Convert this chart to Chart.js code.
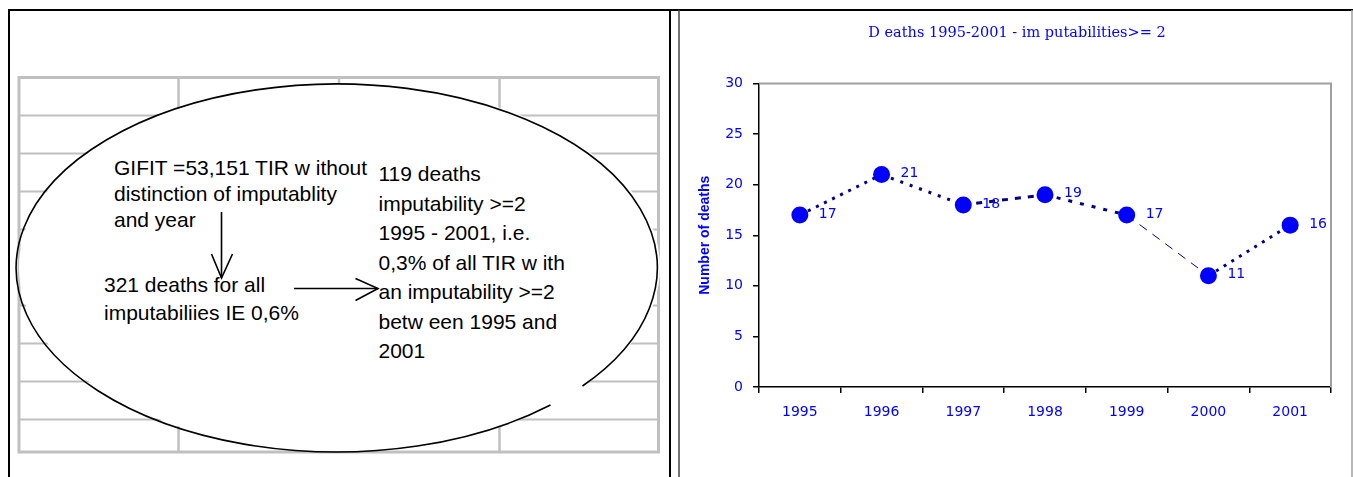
<!DOCTYPE html>
<html><head><meta charset="utf-8">
<script src="https://cdn.jsdelivr.net/npm/chart.js@4.4.1/dist/chart.umd.min.js"></script>
<style>
html,body{margin:0;padding:0;background:#fff;width:1353px;height:477px;overflow:hidden;}
#frame{position:absolute;left:0;top:0;}
#chartWrap{position:absolute;left:681px;top:12px;width:672px;height:465px;}
svg text{font-family:"Liberation Sans",Arial,sans-serif;font-size:21px;fill:#000;}
</style></head><body>
<svg id="frame" width="1353" height="477" xmlns="http://www.w3.org/2000/svg">
  <!-- spreadsheet grid -->
  <g stroke="#c0c0c0" fill="none">
    <g stroke-width="2">
      <line x1="19" y1="115.5" x2="658.5" y2="115.5"/>
      <line x1="19" y1="153.5" x2="658.5" y2="153.5"/>
      <line x1="19" y1="191.5" x2="658.5" y2="191.5"/>
      <line x1="19" y1="229.5" x2="658.5" y2="229.5"/>
      <line x1="19" y1="267.5" x2="658.5" y2="267.5"/>
      <line x1="19" y1="305.5" x2="658.5" y2="305.5"/>
      <line x1="19" y1="343.5" x2="658.5" y2="343.5"/>
      <line x1="19" y1="381.5" x2="658.5" y2="381.5"/>
      <line x1="19" y1="419.5" x2="658.5" y2="419.5"/>
    </g>
    <g stroke-width="2.5">
      <line x1="178.5" y1="77.5" x2="178.5" y2="452"/>
      <line x1="339" y1="77.5" x2="339" y2="452"/>
      <line x1="499.5" y1="77.5" x2="499.5" y2="452"/>
    </g>
    <rect x="19" y="77.5" width="639.5" height="374.5" stroke-width="3"/>
  </g>
  <!-- ellipse -->
  <ellipse cx="339.5" cy="267" rx="320.5" ry="184" fill="#fff" stroke="none"/>
  <path d="M 550.5 405 A 320.5 184 0 1 1 582.5 386" fill="none" stroke="#000" stroke-width="1.6"/>
  <!-- texts -->
  <text x="114" y="175">GIFIT =53,151 TIR w ithout</text>
  <text x="114" y="201">distinction of imputablity</text>
  <text x="114" y="227">and year</text>
  <text x="104" y="292">321 deaths for all</text>
  <text x="104" y="320">imputabiliies IE 0,6%</text>
  <text x="378.5" y="181">119 deaths</text>
  <text x="378.5" y="210.5">imputability &gt;=2</text>
  <text x="378.5" y="240">1995 - 2001, i.e.</text>
  <text x="378.5" y="269.5">0,3% of all TIR w ith</text>
  <text x="378.5" y="299">an imputability &gt;=2</text>
  <text x="378.5" y="328.5">betw een 1995 and</text>
  <text x="378.5" y="358">2001</text>
  <!-- arrows -->
  <g stroke="#000" stroke-width="1.6" fill="none">
    <line x1="221.5" y1="212" x2="221.5" y2="278"/>
    <polyline points="211.5,254 221.5,278 232.5,254"/>
    <line x1="294" y1="288.5" x2="378" y2="288.5"/>
    <polyline points="355.5,278.5 378,288.5 355.5,300.5"/>
  </g>
  <!-- frame -->
  <line x1="8" y1="10" x2="1353" y2="10" stroke="#000" stroke-width="2"/>
  <line x1="9" y1="9" x2="9" y2="477" stroke="#000" stroke-width="2"/>
  <line x1="670" y1="10" x2="670" y2="477" stroke="#000" stroke-width="2"/>
  <line x1="679" y1="10" x2="679" y2="477" stroke="#444" stroke-width="1.5"/>
  <line x1="1352" y1="10" x2="1352" y2="477" stroke="#a0a0a0" stroke-width="1.5"/>
</svg>
<div id="chartWrap"><canvas id="c" width="672" height="465"></canvas></div>
<script>
// ---- data ----
const categories = ['1995', '1996', '1997', '1998', '1999', '2000', '2001'];
const deaths = [17, 21, 18, 19, 17, 11, 16];
const yTickValues = [0, 5, 10, 15, 20, 25, 30];
const chartTitle = 'D eaths 1995-2001 - im putabilities>= 2';
const yAxisTitle = 'Number of deaths';

// ---- styles (per segment) ----
const segDash = [[3, 6], [3, 7], [6, 7], [4, 8], [9, 7], [3, 6]];
const segWidth = [3, 3, 3, 3, 1, 3];

const BLUE = '#0000ff';

const plotBorder = {
  id: 'plotBorder',
  beforeDatasetsDraw(chart) {
    const { ctx, chartArea: a } = chart;
    ctx.save();
    ctx.strokeStyle = '#a0a0a0';
    ctx.lineWidth = 2;
    ctx.beginPath();
    ctx.moveTo(a.left, a.top);
    ctx.lineTo(a.right, a.top);
    ctx.lineTo(a.right, a.bottom);
    ctx.stroke();
    ctx.restore();
  }
};

const pointLabels = {
  id: 'pointLabels',
  afterDatasetsDraw(chart) {
    const meta = chart.getDatasetMeta(0);
    const ds = chart.data.datasets[0];
    const ctx = chart.ctx;
    ctx.save();
    ctx.fillStyle = BLUE;
    ctx.font = '14px "DejaVu Sans"';
    ctx.textAlign = 'left';
    ctx.textBaseline = 'middle';
    meta.data.forEach((pt, i) => {
      ctx.fillText(String(ds.data[i]), pt.x + 19, pt.y - 1);
    });
    ctx.restore();
  }
};

new Chart(document.getElementById('c').getContext('2d'), {
  type: 'line',
  data: {
    labels: categories,
    datasets: [{
      data: deaths,
      borderColor: '#000080',
      borderWidth: 3,
      borderDash: [3, 6],
      pointRadius: 8.5,
      pointBackgroundColor: BLUE,
      pointBorderColor: BLUE,
      pointBorderWidth: 0,
      tension: 0,
      fill: false,
      segment: {
        borderDash: c => segDash[c.p0DataIndex],
        borderWidth: c => segWidth[c.p0DataIndex]
      }
    }]
  },
  options: {
    responsive: false,
    animation: false,
    devicePixelRatio: 1,
    layout: { padding: { left: 22, right: 22, top: 0, bottom: 0 } },
    plugins: {
      legend: { display: false },
      tooltip: { enabled: false },
      title: {
        display: true,
        text: chartTitle,
        color: BLUE,
        font: { family: 'DejaVu Serif', size: 14.5, weight: 'normal' },
        padding: { top: 12.3, bottom: 41.8 }
      }
    },
    scales: {
      x: {
        offset: true,
        grid: { offset: true, drawOnChartArea: false, drawTicks: true, tickLength: 6, color: '#000', lineWidth: 1.5 },
        border: { display: true, color: '#000', width: 1.5 },
        ticks: { color: BLUE, font: { family: 'DejaVu Sans', size: 14 }, padding: 11, maxRotation: 0, autoSkip: false },
        afterFit(s) { s.height = 90; }
      },
      y: {
        min: 0,
        max: 30,
        afterBuildTicks(s) { s.ticks = yTickValues.map(v => ({ value: v })); },
        ticks: { color: BLUE, font: { family: 'DejaVu Sans', size: 14 }, padding: 10 },
        grid: { drawOnChartArea: false, drawTicks: true, tickLength: 6, color: '#000', lineWidth: 1.5 },
        border: { display: true, color: '#000', width: 1.5 },
        title: {
          display: true,
          text: yAxisTitle,
          color: BLUE,
          font: { family: 'Liberation Sans', size: 14, weight: 'bold' },
          padding: { top: -6, bottom: 0 }
        },
        afterFit(s) { s.width = 56; }
      }
    }
  },
  plugins: [plotBorder, pointLabels]
});
</script>
</body></html>
